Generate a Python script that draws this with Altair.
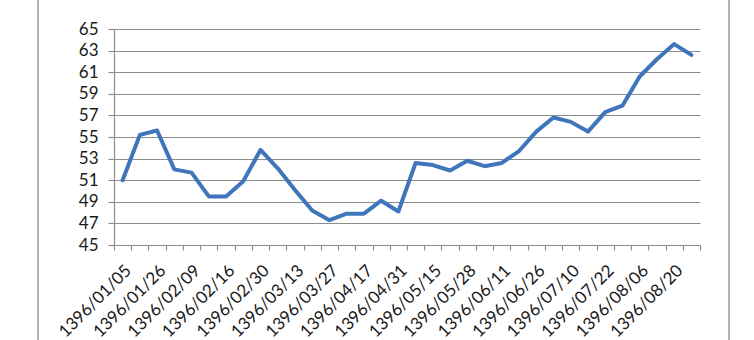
import altair as alt
import pandas as pd

dates = [
    "1396/01/05", "1396/01/19", "1396/01/26", "1396/02/02", "1396/02/09",
    "1396/02/12", "1396/02/16", "1396/02/23", "1396/02/30", "1396/03/06",
    "1396/03/13", "1396/03/20", "1396/03/27", "1396/04/10", "1396/04/17",
    "1396/04/24", "1396/04/31", "1396/05/08", "1396/05/15", "1396/05/22",
    "1396/05/28", "1396/06/04", "1396/06/11", "1396/06/18", "1396/06/26",
    "1396/07/03", "1396/07/10", "1396/07/16", "1396/07/22", "1396/07/29",
    "1396/08/06", "1396/08/13", "1396/08/20", "1396/08/27",
]
values = [
    51.0, 55.2, 55.6, 52.0, 51.7, 49.5, 49.5, 50.9, 53.8, 52.1,
    50.1, 48.2, 47.3, 47.9, 47.9, 49.1, 48.1, 52.6, 52.4, 51.9,
    52.8, 52.3, 52.6, 53.7, 55.5, 56.8, 56.4, 55.5, 57.3, 57.9,
    60.6, 62.2, 63.6, 62.6,
]
y_ticks = list(range(45, 66, 2))

FONT = "Lato"
GRID = "#8c8c8c"
LINE = "#3F75BA"
TEXT = "#1a1a1a"

df = pd.DataFrame({"idx": list(range(len(dates))), "date": dates, "value": values})

label_vals = [i + 0.5 for i in range(0, len(dates), 2)]
tick_vals = list(range(len(dates) + 1))
arr = "[" + ",".join(f"'{d}'" for d in dates) + "]"
label_expr = f"{arr}[floor(datum.value)]"

base = alt.Chart(df).transform_calculate(pos="datum.idx + 0.5")

xscale = alt.Scale(domain=[0, len(dates)], nice=False, zero=False)
yscale = alt.Scale(domain=[45, 65], nice=False, zero=False)

line = base.mark_line(color=LINE, strokeWidth=4, strokeJoin="round", strokeCap="round").encode(
    x=alt.X("pos:Q", scale=xscale, axis=alt.Axis(
        values=label_vals, labelExpr=label_expr, labelAngle=-45, ticks=False,
        domain=False, grid=False, labelPadding=17, title=None, labelFont=FONT,
        labelFontSize=17, labelColor=TEXT, labelOverlap=False, labelFlush=False,
        orient="bottom")),
    y=alt.Y("value:Q", scale=yscale, axis=alt.Axis(
        values=y_ticks, grid=True, gridColor=GRID, gridWidth=1.2, gridOpacity=1,
        tickColor=GRID, tickSize=6, tickWidth=1.2, domainColor=GRID, domainWidth=1.2,
        labelPadding=10, title=None, labelFont=FONT, labelFontSize=17,
        labelColor=TEXT, labelOverlap=False, labelFlush=False, orient="left")),
)

ticks = base.mark_line(opacity=0).encode(
    x=alt.X("pos:Q", scale=xscale, axis=alt.Axis(
        values=tick_vals, labels=False, ticks=True, tickSize=5, tickWidth=1.2,
        tickColor=GRID, domain=True, domainColor=GRID, domainWidth=1.2,
        grid=False, title=None, orient="bottom")),
    y=alt.Y("value:Q", scale=yscale, axis=None),
)

frame_df = pd.DataFrame({"k": [0]})
left_edge = alt.Chart(frame_df).mark_rule(color="#9a9a9a", strokeWidth=1.5).encode(
    x=alt.value(-76), y=alt.value(-60), y2=alt.value(400))
right_edge = alt.Chart(frame_df).mark_rule(color="#9a9a9a", strokeWidth=1.5).encode(
    x=alt.value(615), y=alt.value(-60), y2=alt.value(400))

chart = alt.layer(left_edge, right_edge, ticks, line).resolve_axis(
    x="independent", y="independent"
).properties(
    width=586, height=216,
    autosize=alt.AutoSizeParams(type="none"),
    padding={"left": 114, "top": 29, "right": 54, "bottom": 95},
    background="white",
).configure_view(stroke=None)

chart.save("out.html", embed_options={"renderer": "svg", "actions": False})
